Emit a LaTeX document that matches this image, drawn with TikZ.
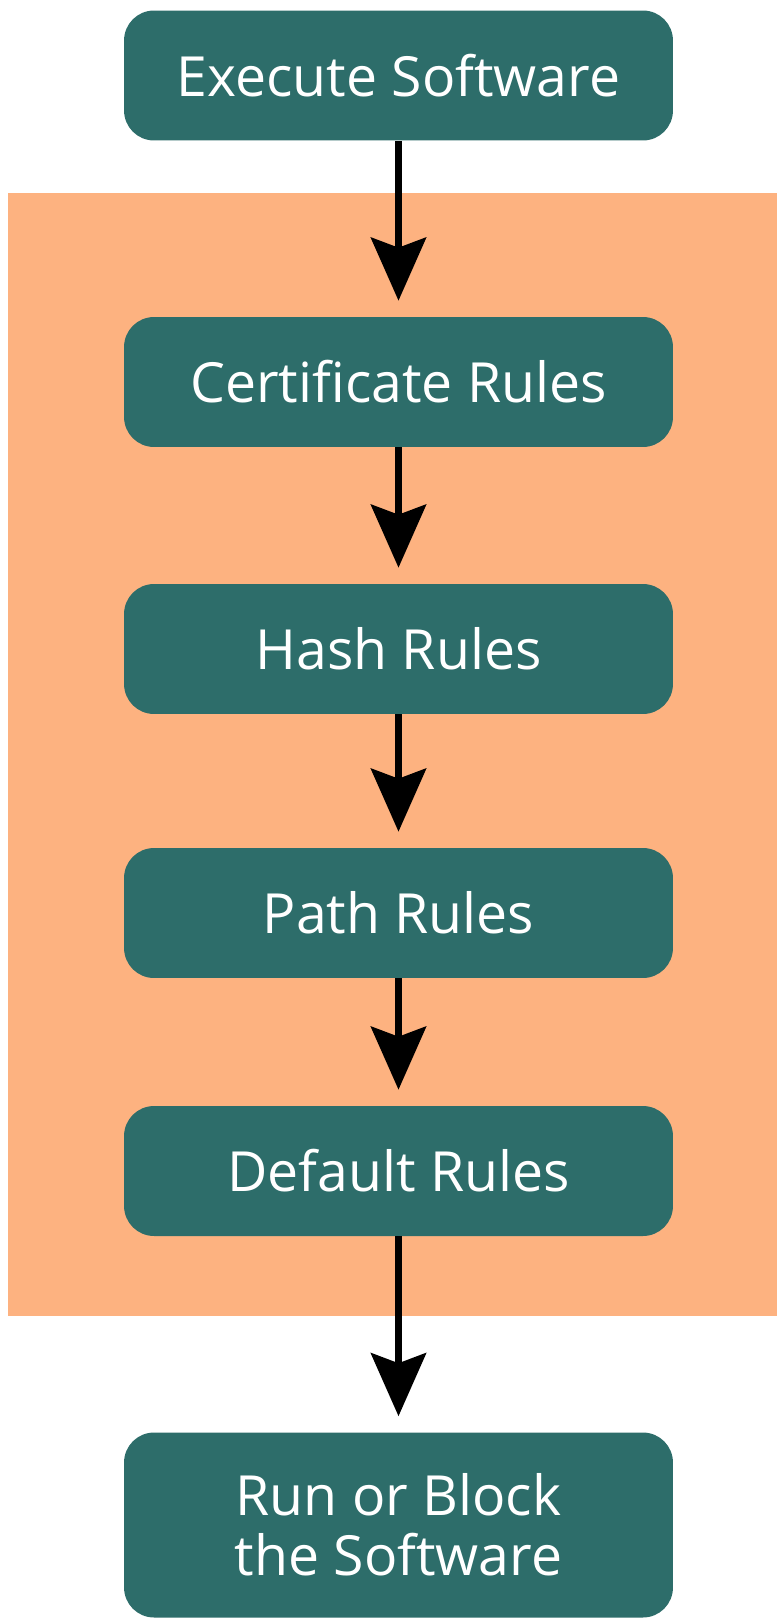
\documentclass[tikz,border=0pt]{standalone}
\usepackage{fontspec}
\setmainfont{Open Sans}
\usetikzlibrary{arrows.meta}

\definecolor{boxteal}{RGB}{45,109,106}
\definecolor{bandorange}{RGB}{253,178,128}

\tikzset{
    rulebox/.style={rectangle, rounded corners=0.6cm, fill=boxteal, text=white,
        minimum width=10.98cm, minimum height=2.6cm, align=center,
        font=\fontsize{31.5}{34}\selectfont},
    flowarrow/.style={line width=0.14cm, -{Stealth[length=1.26cm, width=1.1cm, inset=0.2cm]},
        shorten >=0.32cm}
}

\begin{document}
\begin{tikzpicture}[x=0.02cm, y=-0.02cm]  % 坐标按像素给出

    \useasboundingbox (0,0) rectangle (777,1618);

    % 背景橙色区域
    \fill[bandorange] (8,193) rectangle (777,1316);

    % 各个规则框
    \node[rulebox] (exec) at (398.5,75.5) {Execute Software};
    \node[rulebox] (cert) at (398.5,382) {Certificate Rules};
    \node[rulebox] (hash) at (398.5,649) {Hash Rules};
    \node[rulebox] (path) at (398.5,913) {Path Rules};
    \node[rulebox] (dflt) at (398.5,1171) {Default Rules};
    \node[rulebox, minimum height=3.7cm] (run) at (398.5,1525) {Run or Block\\the Software};

    % 箭头
    \draw[flowarrow] (exec) -- (cert);
    \draw[flowarrow] (cert) -- (hash);
    \draw[flowarrow] (hash) -- (path);
    \draw[flowarrow] (path) -- (dflt);
    \draw[flowarrow] (dflt) -- (run);

\end{tikzpicture}
\end{document}
